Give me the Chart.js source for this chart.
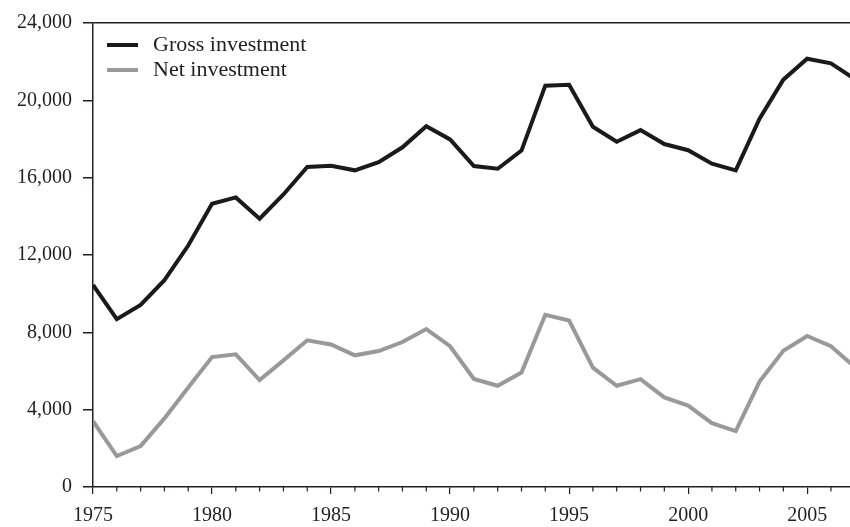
<!DOCTYPE html>
<html>
<head>
<meta charset="utf-8">
<script src="https://cdn.jsdelivr.net/npm/chart.js@4"></script>
<style>
  body { margin: 0; background: #fff; }
</style>
</head>
<body>
<canvas id="chart" width="850" height="527"></canvas>
<script>
const years = [1975, 1976, 1977, 1978, 1979, 1980, 1981, 1982, 1983, 1984, 1985, 1986, 1987, 1988, 1989, 1990, 1991,
  1992, 1993, 1994, 1995, 1996, 1997, 1998, 1999, 2000, 2001, 2002, 2003, 2004, 2005, 2006, 2007];
const gross = [10450, 8680, 9420, 10700, 12490, 14650, 14980, 13880, 15130, 16550, 16620, 16380, 16800, 17570, 18660, 17980, 16600,
  16460, 17400, 20760, 20810, 18630, 17860, 18460, 17740, 17420, 16720, 16380, 19050, 21070, 22150, 21910, 21100];
const net = [3410, 1600, 2120, 3550, 5150, 6720, 6860, 5530, 6550, 7590, 7370, 6810, 7030, 7500, 8170, 7280, 5590,
  5235, 5916, 8905, 8613, 6172, 5235, 5578, 4637, 4212, 3306, 2890, 5450, 7050, 7810, 7280, 6200];
const seriesNames = ['Gross investment', 'Net investment'];
const yTicks = [0, 4000, 8000, 12000, 16000, 20000, 24000];

const ink = '#231f20';
const serif = '"Liberation Serif", "DejaVu Serif", serif';

// minor year ticks + legend drawn inside the plot
const extras = {
  id: 'extras',
  afterDraw(chart) {
    const ctx = chart.ctx;
    const xs = chart.scales.x;
    const bottom = chart.chartArea.bottom;
    ctx.save();
    ctx.strokeStyle = ink;
    ctx.lineWidth = 1.2;
    years.forEach(y => {
      if (y % 5 === 0) return;
      const px = xs.getPixelForValue(y);
      if (px > chart.chartArea.right) return;
      ctx.beginPath();
      ctx.moveTo(px, bottom);
      ctx.lineTo(px, bottom + 4.5);
      ctx.stroke();
    });

    chart.data.datasets.forEach((ds, i) => {
      const cy = 45 + i * 25;
      ctx.strokeStyle = ds.borderColor;
      ctx.lineWidth = 4;
      ctx.beginPath();
      ctx.moveTo(107, cy);
      ctx.lineTo(138, cy);
      ctx.stroke();
      ctx.fillStyle = ink;
      ctx.font = '22px ' + serif;
      ctx.textBaseline = 'middle';
      ctx.fillText(ds.label, 153, cy);
    });
    ctx.restore();
  }
};

new Chart(document.getElementById('chart'), {
  type: 'line',
  data: {
    datasets: [{
      label: seriesNames[0],
      data: years.map((y, i) => ({ x: y, y: gross[i] })),
      borderColor: '#1a1a1a',
      borderWidth: 4,
      pointRadius: 0,
      tension: 0,
      borderJoinStyle: 'miter'
    }, {
      label: seriesNames[1],
      data: years.map((y, i) => ({ x: y, y: net[i] })),
      borderColor: '#999999',
      borderWidth: 4,
      pointRadius: 0,
      tension: 0,
      borderJoinStyle: 'miter'
    }]
  },
  options: {
    responsive: false,
    animation: false,
    devicePixelRatio: 1,
    layout: { padding: { top: 18, right: 0, left: 0, bottom: 0 } },
    plugins: {
      legend: { display: false },
      tooltip: { enabled: false }
    },
    scales: {
      x: {
        type: 'linear',
        min: 1975,
        max: 2006.8,
        afterFit: s => { s.height = 40; },
        border: { color: ink, width: 1.5 },
        grid: { drawOnChartArea: false, tickLength: 7, tickColor: ink, lineWidth: 1.2 },
        ticks: {
          stepSize: 5,
          includeBounds: false,
          autoSkip: false,
          maxRotation: 0,
          padding: 10,
          color: ink,
          font: { family: serif, size: 20 },
          callback: v => String(v)
        }
      },
      y: {
        min: 0,
        max: 24000,
        afterFit: s => { s.width = 93; },
        afterBuildTicks: s => { s.ticks = yTicks.map(v => ({ value: v })); },
        border: { color: ink, width: 1.5 },
        grid: {
          drawOnChartArea: true,
          tickLength: 10,
          tickColor: ink,
          lineWidth: 1.5,
          color: c => (c.tick && c.tick.value === 24000) ? ink : 'rgba(0,0,0,0)'
        },
        ticks: {
          padding: 11,
          color: ink,
          font: { family: serif, size: 20 },
          callback: v => v.toLocaleString('en-US')
        }
      }
    }
  },
  plugins: [extras]
});
</script>
</body>
</html>
